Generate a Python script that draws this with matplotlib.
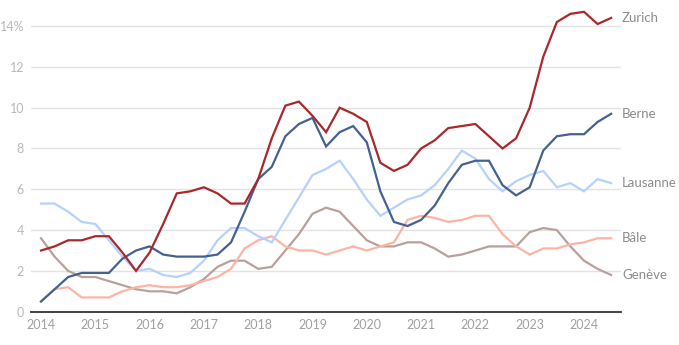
import matplotlib
matplotlib.use("Agg")
import matplotlib.pyplot as plt
import numpy as np

# ---- data (quarterly, 2014 Q1 .. 2024 Q3) ----
start_year = 2014
n_points = 43
zurich = [3.0, 3.2, 3.5, 3.5, 3.7, 3.7, 2.9, 2.0, 2.9, 4.3, 5.8, 5.9,
          6.1, 5.8, 5.3, 5.3, 6.5, 8.5, 10.1, 10.3, 9.6, 8.8, 10.0, 9.7,
          9.3, 7.3, 6.9, 7.2, 8.0, 8.4, 9.0, 9.1, 9.2, 8.6, 8.0, 8.5,
          10.0, 12.5, 14.2, 14.6, 14.7, 14.1, 14.4]
berne = [0.5, 1.1, 1.7, 1.9, 1.9, 1.9, 2.6, 3.0, 3.2, 2.8, 2.7, 2.7,
         2.7, 2.8, 3.4, 4.9, 6.5, 7.1, 8.6, 9.2, 9.5, 8.1, 8.8, 9.1,
         8.3, 5.9, 4.4, 4.2, 4.5, 5.2, 6.3, 7.2, 7.4, 7.4, 6.2, 5.7,
         6.1, 7.9, 8.6, 8.7, 8.7, 9.3, 9.7]
lausanne = [5.3, 5.3, 4.9, 4.4, 4.3, 3.5, 2.7, 2.0, 2.1, 1.8, 1.7, 1.9,
            2.5, 3.5, 4.1, 4.1, 3.7, 3.4, 4.5, 5.6, 6.7, 7.0, 7.4, 6.5,
            5.5, 4.7, 5.1, 5.5, 5.7, 6.2, 7.0, 7.9, 7.5, 6.5, 5.9, 6.4,
            6.7, 6.9, 6.1, 6.3, 5.9, 6.5, 6.3]
bale = [0.5, 1.1, 1.2, 0.7, 0.7, 0.7, 1.0, 1.2, 1.3, 1.2, 1.2, 1.3,
        1.5, 1.7, 2.1, 3.1, 3.5, 3.7, 3.2, 3.0, 3.0, 2.8, 3.0, 3.2,
        3.0, 3.2, 3.4, 4.5, 4.7, 4.6, 4.4, 4.5, 4.7, 4.7, 3.8, 3.2,
        2.8, 3.1, 3.1, 3.3, 3.4, 3.6, 3.6]
geneve = [3.6, 2.7, 2.0, 1.7, 1.7, 1.5, 1.3, 1.1, 1.0, 1.0, 0.9, 1.2,
          1.6, 2.2, 2.5, 2.5, 2.1, 2.2, 3.0, 3.8, 4.8, 5.1, 4.9, 4.2,
          3.5, 3.2, 3.2, 3.4, 3.4, 3.1, 2.7, 2.8, 3.0, 3.2, 3.2, 3.2,
          3.9, 4.1, 4.0, 3.2, 2.5, 2.1, 1.8]
series_names = ["Genève", "Bâle", "Lausanne", "Berne", "Zurich"]
series_values = [geneve, bale, lausanne, berne, zurich]
series_colors = ["#b9a09c", "#fdb4a3", "#b4d2fb", "#44618f", "#a9282b"]
year_ticks = list(range(2014, 2025))
y_ticks = [0, 2, 4, 6, 8, 10, 12, 14]
y_labels = ["0", "2", "4", "6", "8", "10", "12", "14%"]

x = start_year + np.arange(n_points) * 0.25

plt.rcParams["font.family"] = ["Lato", "DejaVu Sans"]

fig = plt.figure(figsize=(6.79, 3.45), dpi=100)
ax = fig.add_axes([31 / 679, (345 - 311.7) / 345, (621 - 31) / 679, (311.7 - 1.6) / 345])

for name, vals, col in zip(series_names, series_values, series_colors):
    ax.plot(x, vals, color=col, lw=1.6, solid_joinstyle="miter", zorder=3)
    ax.text(2014 + (622 - 41) / 54.3, vals[-1], name, color="#8c8c8c", fontsize=9.5,
            va="center", ha="left", clip_on=False)

ax.set_xlim(2014 - 10 / 54.3, 2014 + (621 - 41) / 54.3)
ax.set_ylim(0, 15.2)
ax.set_xticks(year_ticks)
ax.set_xticklabels([str(y) for y in year_ticks])
ax.set_yticks(y_ticks)
ax.set_yticklabels(y_labels)
ax.tick_params(axis="both", length=0, labelsize=9)
ax.tick_params(axis="y", pad=5, labelcolor="#b8b8b8")
ax.tick_params(axis="x", pad=5, labelcolor="#a0a0a0")
ax.grid(axis="y", color="#e3e3e3", lw=1)
ax.set_axisbelow(True)
for s in ["top", "right", "left"]:
    ax.spines[s].set_visible(False)
ax.spines["bottom"].set_color("#333333")
ax.spines["bottom"].set_linewidth(1.3)
ax.spines["bottom"].set_zorder(4)

fig.savefig("out.png", dpi=100)
